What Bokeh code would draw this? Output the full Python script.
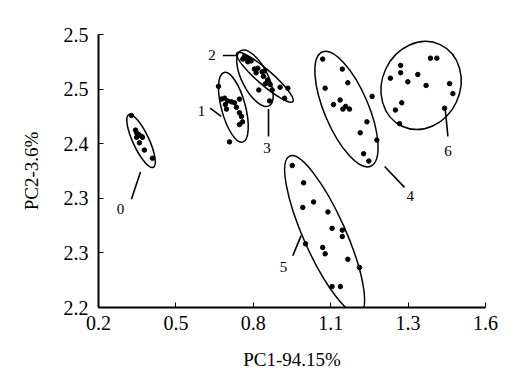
import numpy as np
from bokeh.plotting import figure
from bokeh.models import FixedTicker
from bokeh.core.properties import value
from bokeh.embed import file_html
from bokeh.resources import INLINE

# ---- data ----
x_ticks = [0.2, 0.48, 0.76, 1.04, 1.32, 1.6]
x_tick_labels = ["0.2", "0.5", "0.8", "1.1", "1.3", "1.6"]
y_ticks = [2.2, 2.26, 2.32, 2.38, 2.44, 2.5]
y_tick_labels = ["2.2", "2.3", "2.3", "2.4", "2.5", "2.5"]

c0_x = [0.319, 0.334, 0.338, 0.345, 0.356, 0.359, 0.338, 0.348, 0.366, 0.395]
c0_y = [2.411, 2.395, 2.392, 2.390, 2.388, 2.387, 2.387, 2.381, 2.373, 2.364]

c1_x = [0.634, 0.645, 0.656, 0.667, 0.681, 0.692, 0.710, 0.659, 0.663, 0.699, 0.710, 0.717, 0.721, 0.710, 0.674]
c1_y = [2.443, 2.429, 2.430, 2.427, 2.426, 2.425, 2.429, 2.423, 2.418, 2.420, 2.414, 2.410, 2.404, 2.401, 2.382]

c2_x = [0.728, 0.736, 0.744, 0.752, 0.740, 0.722, 0.828, 0.857, 0.885, 0.873]
c2_y = [2.476, 2.474, 2.473, 2.471, 2.470, 2.473, 2.439, 2.442, 2.441, 2.430]

c3_x = [0.764, 0.776, 0.770, 0.792, 0.801, 0.797, 0.812, 0.821, 0.804, 0.780, 0.819]
c3_y = [2.462, 2.463, 2.458, 2.459, 2.460, 2.454, 2.450, 2.445, 2.446, 2.439, 2.427]

c4_x = [1.011, 1.082, 1.102, 1.020, 1.190, 1.050, 1.074, 1.084, 1.094, 1.108, 1.171, 1.147, 1.207, 1.159, 1.178]
c4_y = [2.473, 2.462, 2.447, 2.441, 2.432, 2.423, 2.428, 2.418, 2.421, 2.418, 2.404, 2.392, 2.384, 2.369, 2.361]

c5_x = [0.901, 0.942, 0.978, 0.939, 1.030, 1.045, 1.082, 1.082, 0.949, 1.011, 1.020, 1.102, 1.144, 1.045, 1.075]
c5_y = [2.356, 2.337, 2.316, 2.310, 2.305, 2.287, 2.285, 2.278, 2.270, 2.266, 2.259, 2.253, 2.244, 2.223, 2.223]

c6_x = [1.256, 1.293, 1.293, 1.319, 1.355, 1.401, 1.424, 1.385, 1.470, 1.482, 1.452, 1.297, 1.274, 1.289]
c6_y = [2.452, 2.466, 2.458, 2.448, 2.456, 2.474, 2.474, 2.444, 2.446, 2.435, 2.419, 2.425, 2.417, 2.402]

# confidence ellipses: centre (data units), axes (screen px), tilt (degrees)
ell_x = [0.354, 0.688, 0.802, 0.766, 1.097, 1.018, 1.367]
ell_y = [2.383, 2.420, 2.453, 2.452, 2.418, 2.280, 2.444]
ell_major = [58, 72, 74, 62, 124, 172, 90]
ell_minor = [16, 24, 15, 26, 44, 42, 78]
ell_angle = [115, 105, 139, 117, 113, 114, 65]

# group labels with leader lines
lab_text = ["0", "1", "2", "3", "4", "5", "6"]
lab_x = [0.280, 0.573, 0.611, 0.810, 1.328, 0.869, 1.464]
lab_y = [2.308, 2.416, 2.478, 2.375, 2.322, 2.245, 2.372]
lead_x0 = [0.352, 0.604, 0.650, 0.815, 1.235, 0.933, 1.454]
lead_y0 = [2.349, 2.419, 2.477, 2.418, 2.355, 2.279, 2.419]
lead_x1 = [0.319, 0.644, 0.699, 0.815, 1.307, 0.903, 1.464]
lead_y1 = [2.319, 2.410, 2.477, 2.388, 2.332, 2.257, 2.388]

FONT = "Liberation Serif"

p = figure(width=512, height=377, x_range=(0.2, 1.6), y_range=(2.2, 2.5),
           output_backend="svg", toolbar_location=None,
           min_border_left=98, min_border_right=27, min_border_top=34, min_border_bottom=70)
p.outline_line_color = None
p.grid.visible = False
p.background_fill_color = "white"

# ellipses
p.ellipse(x=ell_x, y=ell_y, width=ell_major, height=ell_minor,
          angle=[np.deg2rad(a) for a in ell_angle],
          width_units="screen", height_units="screen",
          fill_color=None, line_color="black", line_width=1.5)

# points
all_x = c0_x + c1_x + c2_x + c3_x + c4_x + c5_x + c6_x
all_y = c0_y + c1_y + c2_y + c3_y + c4_y + c5_y + c6_y
p.scatter(all_x, all_y, size=4.5, color="black")

# leader lines and labels
p.segment(x0=lead_x0, y0=lead_y0, x1=lead_x1, y1=lead_y1, line_color="black", line_width=1.6)
p.text(x=lab_x, y=lab_y, text=lab_text, text_align="center", text_baseline="middle",
       text_font=value(FONT), text_font_size="15px", text_color="black")

# axes
p.xaxis.ticker = FixedTicker(ticks=x_ticks)
p.yaxis.ticker = FixedTicker(ticks=y_ticks)
p.xaxis.major_label_overrides = {t: l for t, l in zip(x_ticks, x_tick_labels)}
p.yaxis.major_label_overrides = {t: l for t, l in zip(y_ticks, y_tick_labels)}
p.xaxis.axis_label = "PC1-94.15%"
p.yaxis.axis_label = "PC2-3.6%"
for ax in (p.xaxis, p.yaxis):
    ax.axis_line_width = 2
    ax.axis_line_color = "black"
    ax.major_tick_in = 5
    ax.major_tick_out = 0
    ax.minor_tick_line_color = None
    ax.major_tick_line_color = "black"
    ax.major_label_text_font = FONT
    ax.major_label_text_font_size = "20px"
    ax.major_label_text_color = "black"
    ax.axis_label_text_font = FONT
    ax.axis_label_text_font_size = "19px"
    ax.axis_label_text_font_style = "normal"
    ax.axis_label_text_color = "black"
p.xaxis.major_label_standoff = 8
p.yaxis.major_label_standoff = 10
p.xaxis.axis_label_standoff = 16
p.yaxis.axis_label_standoff = 19

open("out.html", "w").write(file_html(p, INLINE))
